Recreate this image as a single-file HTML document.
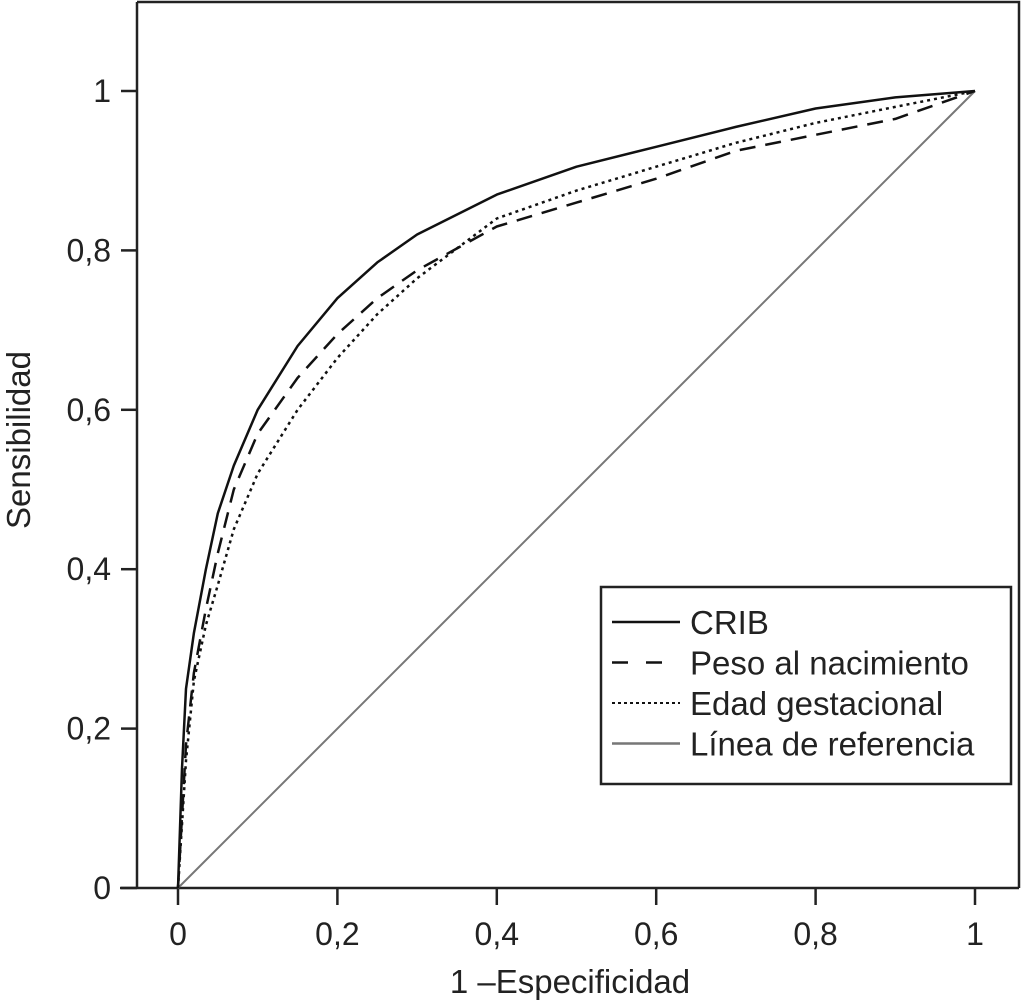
<!DOCTYPE html>
<html><head><meta charset="utf-8"><style>
html,body{margin:0;padding:0;background:#fff;}
svg{display:block;font-family:"Liberation Sans",Arial,sans-serif;}
</style></head><body>
<svg id="chart" width="1024" height="1004" viewBox="0 0 1024 1004">
<g id="axes"></g>
<g id="series"></g>
<g id="legend"></g>
<text x="570" y="993" font-size="33" text-anchor="middle" fill="#222">1 –Especificidad</text>
<text transform="translate(30,440) rotate(-90)" font-size="33" text-anchor="middle" fill="#222">Sensibilidad</text>
</svg>
<script>
const tickValues = [0, 0.2, 0.4, 0.6, 0.8, 1];
const tickLabels = ["0", "0,2", "0,4", "0,6", "0,8", "1"];
const cribX = [0,0.005,0.01,0.02,0.035,0.05,0.07,0.1,0.15,0.2,0.25,0.3,0.4,0.5,0.6,0.7,0.8,0.9,1];
const cribY = [0,0.15,0.25,0.32,0.40,0.47,0.53,0.60,0.68,0.74,0.785,0.82,0.87,0.905,0.93,0.955,0.978,0.992,1];
const pesoX = [0,0.01,0.02,0.035,0.05,0.07,0.1,0.15,0.2,0.25,0.3,0.4,0.5,0.6,0.7,0.8,0.9,1];
const pesoY = [0,0.18,0.27,0.35,0.42,0.50,0.57,0.64,0.695,0.74,0.775,0.83,0.86,0.89,0.925,0.945,0.965,1];
const edadX = [0,0.01,0.02,0.035,0.05,0.07,0.1,0.15,0.2,0.25,0.3,0.4,0.5,0.6,0.7,0.8,0.9,1];
const edadY = [0,0.16,0.26,0.33,0.38,0.45,0.52,0.60,0.665,0.72,0.765,0.84,0.875,0.905,0.935,0.96,0.98,1];
const refX = [0,1];
const refY = [0,1];
const legendLabels = ["CRIB","Peso al nacimiento","Edad gestacional","Línea de referencia"];

const NS="http://www.w3.org/2000/svg";
const X0=178,X1=975,Y0=888,Y1=91;
function sx(v){return X0+(X1-X0)*v;}
function sy(v){return Y0-(Y0-Y1)*v;}
function mk(tag,attrs,parent){const e=document.createElementNS(NS,tag);for(const k in attrs)e.setAttribute(k,attrs[k]);parent.appendChild(e);return e;}
const axes=document.getElementById('axes');
const frame=mk('path',{d:'M137,2 H1019 V888 M137,2 V888 M120,888 H1019',fill:'none',stroke:'#222','stroke-width':2.5},axes);


tickValues.forEach((v,i)=>{
  const xt=mk('line',{x1:sx(v),x2:sx(v),y1:888,y2:905,stroke:'#222','stroke-width':2.5},axes);
  
  
  const xl=mk('text',{x:sx(v),y:945,'font-size':32,'text-anchor':'middle',fill:'#222'},axes);
  xl.textContent=tickLabels[i];
  
  
  const yt=mk('line',{x1:121,x2:137,y1:sy(v),y2:sy(v),stroke:'#222','stroke-width':2.5},axes);
  
  
  const yl=mk('text',{x:111,y:sy(v)+11,'font-size':32,'text-anchor':'end',fill:'#222'},axes);
  yl.textContent=tickLabels[i];
  
  
});
const ser=document.getElementById('series');
function pathD(xs,ys){return xs.map((x,i)=>(i?'L':'M')+sx(x).toFixed(1)+','+sy(ys[i]).toFixed(1)).join(' ');}
const styles=[
 {xs:refX,ys:refY,stroke:'#777',w:2,dash:'',name:'reference-line'},
 {xs:edadX,ys:edadY,stroke:'#111',w:2.5,dash:'3,4',name:'edad-gestacional-line'},
 {xs:pesoX,ys:pesoY,stroke:'#111',w:2.5,dash:'16,10',name:'peso-nacimiento-line'},
 {xs:cribX,ys:cribY,stroke:'#111',w:2.5,dash:'',name:'crib-line'}
];
styles.forEach(s=>{
  const p=mk('path',{d:pathD(s.xs,s.ys),fill:'none',stroke:s.stroke,'stroke-width':s.w,'stroke-dasharray':s.dash,'stroke-linejoin':'round'},ser);
  
  
});
const lg=document.getElementById('legend');
const box=mk('rect',{x:601,y:587,width:410,height:197,fill:'#fff',stroke:'#222','stroke-width':2.5},lg);


const legStyles=[['#111','',2.5],['#111','16,18',2.5],['#111','3,3',2],['#777','',2.5]];
legendLabels.forEach((t,i)=>{
  const y=622+i*40.5;
  const l=mk('line',{x1:612,x2:680,y1:y,y2:y,stroke:legStyles[i][0],'stroke-dasharray':legStyles[i][1],'stroke-width':legStyles[i][2]},lg);
  
  
  const tx=mk('text',{x:690,y:y+12,'font-size':33,fill:'#222'},lg);
  tx.textContent=t;
  
  
});
</script>
</body></html>
